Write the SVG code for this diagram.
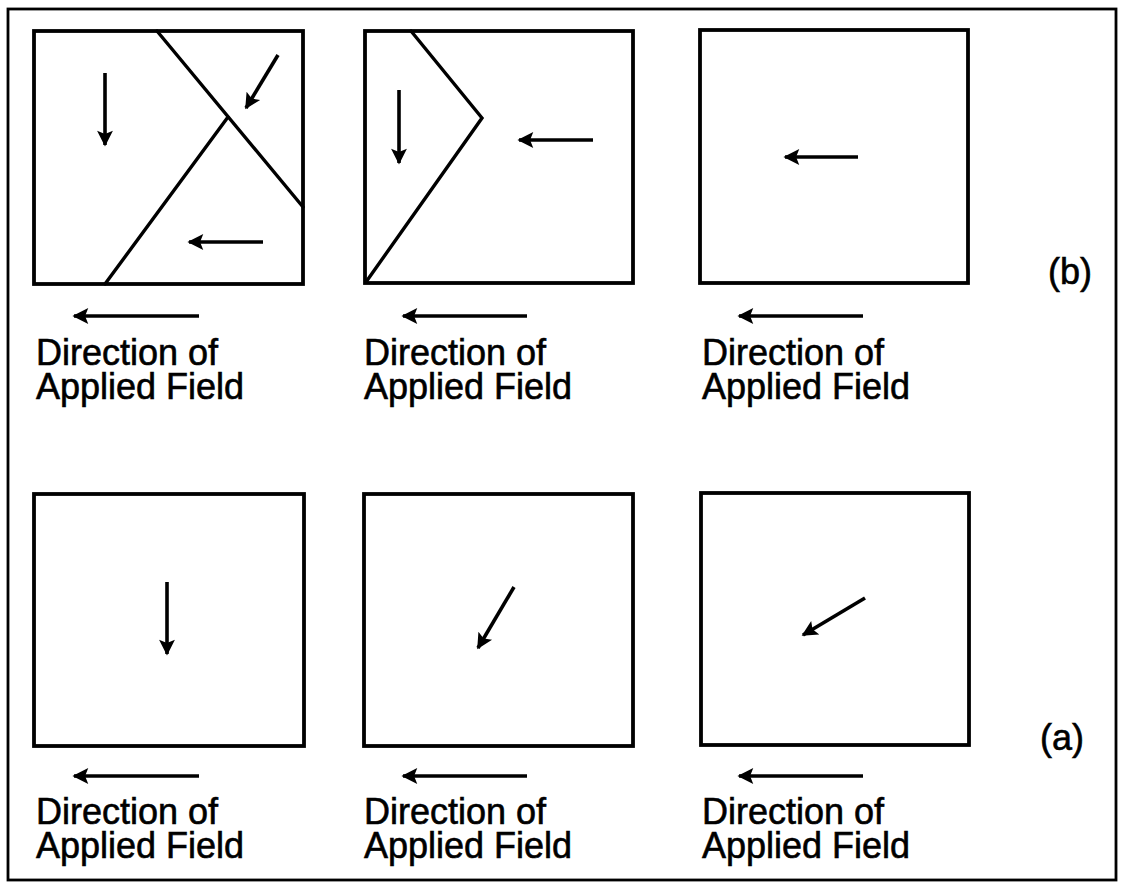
<svg xmlns="http://www.w3.org/2000/svg" width="1124" height="883" viewBox="0 0 1124 883">
<defs>
<marker id="ah" viewBox="0 0 10 10" refX="9" refY="5" markerWidth="5.6" markerHeight="4.4" markerUnits="strokeWidth" orient="auto">
<path d="M0,0 L10,5 L0,10 L2,5 Z" fill="#000"/>
</marker>
<style>
.box{fill:none;stroke:#000;stroke-width:3.8}
.wall{fill:none;stroke:#000;stroke-width:3.4;stroke-linecap:round;stroke-linejoin:miter}
.arr{fill:none;stroke:#000;stroke-width:3.6;marker-end:url(#ah)}
.lbl{font-family:"Liberation Sans",Arial,sans-serif;font-size:36px;fill:#000;stroke:#000;stroke-width:0.6}
</style>
</defs>
<rect width="1124" height="883" fill="#fff"/>
<rect x="8" y="9" width="1108" height="871" fill="none" stroke="#000" stroke-width="2.8"/>

<g id="b1">
<rect class="box" x="34" y="31" width="269" height="253"/>
<polyline class="wall" points="157,31 303,207"/>
<polyline class="wall" points="228,117 105,284"/>
<line class="arr" x1="105" y1="73" x2="105" y2="145"/>
<line class="arr" x1="278" y1="55" x2="246" y2="108"/>
<line class="arr" x1="263" y1="242" x2="189" y2="242"/>
</g>
<g id="b2">
<rect class="box" x="365" y="31" width="268" height="252"/>
<polyline class="wall" points="411,31 482,118 366,282"/>
<line class="arr" x1="399" y1="90" x2="399" y2="163"/>
<line class="arr" x1="593" y1="140" x2="519" y2="140"/>
</g>
<g id="b3">
<rect class="box" x="700" y="30" width="268" height="253"/>
<line class="arr" x1="858" y1="157" x2="785" y2="157"/>
</g>
<text class="lbl" x="1048" y="284">(b)</text>

<g id="a1">
<rect class="box" x="34" y="494" width="270" height="252"/>
<line class="arr" x1="167" y1="582" x2="167" y2="654"/>
</g>
<g id="a2">
<rect class="box" x="364" y="494" width="269" height="252"/>
<line class="arr" x1="514" y1="587" x2="478" y2="648"/>
</g>
<g id="a3">
<rect class="box" x="701" y="493" width="268" height="252"/>
<line class="arr" x1="865" y1="598" x2="803" y2="635"/>
</g>
<text class="lbl" x="1040" y="750">(a)</text>

<g id="field-arrows">
<line class="arr" x1="199" y1="316" x2="74" y2="316"/>
<line class="arr" x1="527" y1="316" x2="403" y2="316"/>
<line class="arr" x1="863" y1="316" x2="739" y2="316"/>
<line class="arr" x1="199" y1="776" x2="74" y2="776"/>
<line class="arr" x1="527" y1="776" x2="403" y2="776"/>
<line class="arr" x1="863" y1="776" x2="739" y2="776"/>
</g>
<g id="field-labels">
<text class="lbl"><tspan x="36" y="365">Direction of</tspan><tspan x="36" y="399">Applied Field</tspan></text>
<text class="lbl"><tspan x="364" y="365">Direction of</tspan><tspan x="364" y="399">Applied Field</tspan></text>
<text class="lbl"><tspan x="702" y="365">Direction of</tspan><tspan x="702" y="399">Applied Field</tspan></text>
<text class="lbl"><tspan x="36" y="824">Direction of</tspan><tspan x="36" y="858">Applied Field</tspan></text>
<text class="lbl"><tspan x="364" y="824">Direction of</tspan><tspan x="364" y="858">Applied Field</tspan></text>
<text class="lbl"><tspan x="702" y="824">Direction of</tspan><tspan x="702" y="858">Applied Field</tspan></text>
</g>
</svg>
